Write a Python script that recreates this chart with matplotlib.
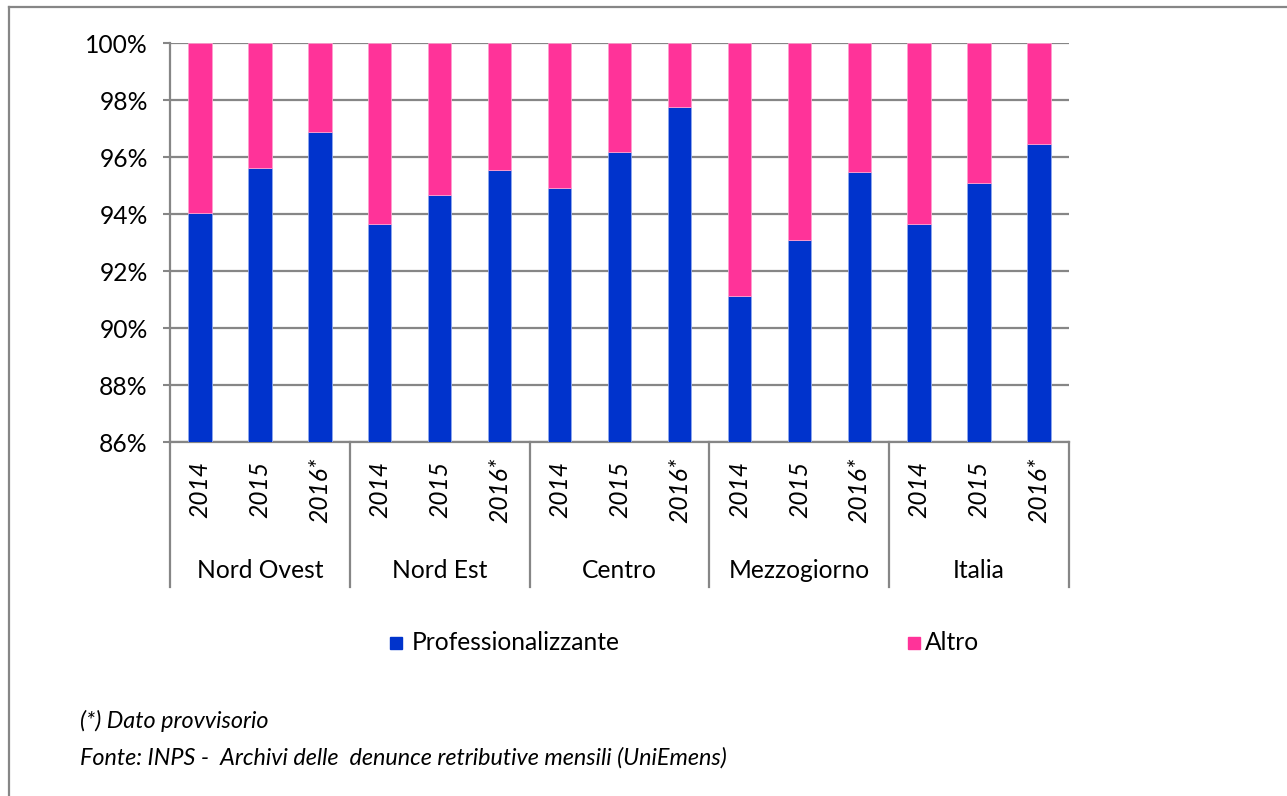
import matplotlib
matplotlib.use("Agg")
import matplotlib.pyplot as plt
from matplotlib.patches import Rectangle
from matplotlib.lines import Line2D
import matplotlib.transforms as mtransforms
import numpy as np

plt.rcParams['font.family'] = ['Lato', 'DejaVu Sans']

regions = ["Nord Ovest", "Nord Est", "Centro", "Mezzogiorno", "Italia"]
years = ["2014", "2015", "2016*"]
professionalizzante = [94.03, 95.62, 96.87,
                       93.65, 94.68, 95.54,
                       94.93, 96.17, 97.75,
                       91.13, 93.08, 95.49,
                       93.65, 95.08, 96.47]
altro = [100 - v for v in professionalizzante]
series_names = ["Professionalizzante", "Altro"]
series_colors = ["#0033CC", "#FF3399"]
yticks = [86, 88, 90, 92, 94, 96, 98, 100]
footnotes = ["(*) Dato provvisorio",
             "Fonte: INPS -  Archivi delle  denunce retributive mensili (UniEmens)"]

W, H = 1287, 796
FS = 17.7
fig = plt.figure(figsize=(W / 100, H / 100), dpi=100)
ax_l, ax_r, ax_t, ax_b = 170, 1069, 43.3, 442
ax = fig.add_axes([ax_l / W, 1 - ax_b / H, (ax_r - ax_l) / W, (ax_b - ax_t) / H])

n = len(professionalizzante)
x = np.arange(n)
bw = 0.39
ax.bar(x, professionalizzante, width=bw, color=series_colors[0],
       edgecolor="#8fa8ee", linewidth=0.6, zorder=3)
ax.bar(x, altro, bottom=professionalizzante, width=bw, color=series_colors[1],
       edgecolor="#ff9fcf", linewidth=0.6, zorder=3)

ax.set_xlim(-0.5, n - 0.5)
ax.set_ylim(86, 100)
ax.set_yticks(yticks)
ax.set_yticklabels([f"{t}%" for t in yticks], fontsize=FS)
ax.tick_params(axis='y', length=5, width=1.5, color="#868686", pad=11)
ax.set_xticks([])
ax.yaxis.grid(True, color="#868686", linewidth=1.6, zorder=0)
ax.set_axisbelow(True)
for s in ["top", "right"]:
    ax.spines[s].set_visible(False)
for s in ["left", "bottom"]:
    ax.spines[s].set_color("#868686")
    ax.spines[s].set_linewidth(1.6)

axh = ax_b - ax_t
trans = mtransforms.blended_transform_factory(ax.transData, ax.transAxes)
# year labels
for i in range(n):
    ax.text(x[i], -(490 - ax_b) / axh, years[i % 3], transform=trans,
            rotation=90, ha="center", va="center", fontsize=FS,
            style="italic")
# group separators and labels
sep_bottom = -(587 - ax_b) / axh
for g in range(len(regions) + 1):
    xs = g * 3 - 0.5
    ax.add_line(Line2D([xs, xs], [0, sep_bottom], transform=trans,
                       color="#868686", linewidth=1.6, clip_on=False))
for g, name in enumerate(regions):
    ax.text(g * 3 + 1, -(571 - ax_b) / axh, name, transform=trans,
            ha="center", va="center", fontsize=FS)

# legend
leg_y = 643
for (sx, tx), name, col in zip([(390, 412), (908, 925)], series_names, series_colors):
    fig.patches.append(Rectangle((sx / W, 1 - (leg_y + 6) / H), 12 / W, 12 / H,
                                 transform=fig.transFigure, color=col))
    fig.text(tx / W, 1 - leg_y / H, name, ha="left", va="center", fontsize=FS)

# footnotes
fig.text(80 / W, 1 - 721 / H, footnotes[0], ha="left", va="center",
         fontsize=16.8, style="italic")
fig.text(80 / W, 1 - 758 / H, footnotes[1], ha="left", va="center",
         fontsize=16.8, style="italic")

# outer frame (top and left only)
fig.add_artist(Line2D([9 / W, 1], [1 - 7 / H, 1 - 7 / H], transform=fig.transFigure,
                      color="#868686", linewidth=1.6))
fig.add_artist(Line2D([9 / W, 9 / W], [0, 1 - 7 / H], transform=fig.transFigure,
                      color="#868686", linewidth=1.6))

fig.savefig("out.png", dpi=100, facecolor="white")
